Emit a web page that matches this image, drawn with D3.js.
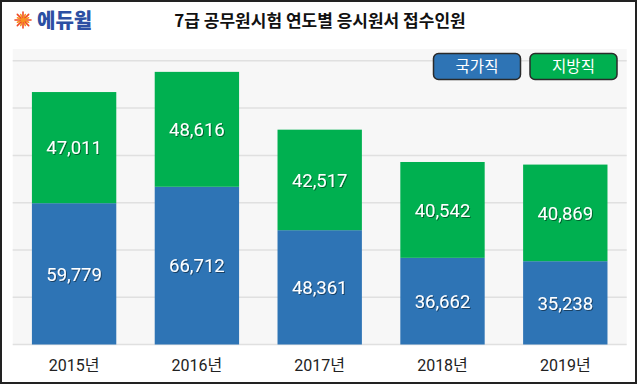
<!DOCTYPE html>
<html>
<head>
<meta charset="utf-8">
<script src="https://cdn.jsdelivr.net/npm/d3@7"></script>
<style>
  body { margin: 0; background: #fff; }
  svg { display: block; }
</style>
</head>
<body>
<div id="chart"></div>
<script>
// data
var years = ["2015년", "2016년", "2017년", "2018년", "2019년"];
var national = [59779, 66712, 48361, 36662, 35238];   // 국가직
var local = [47011, 48616, 42517, 40542, 40869];      // 지방직
var seriesNames = ["국가직", "지방직"];
var yTicks = [0, 20000, 40000, 60000, 80000, 100000, 120000];

var width = 640, height = 385;
var colors = ["#2e74b5", "#00b050"];
var font = "Roboto, 'Noto Sans CJK KR', sans-serif";

var svg = d3.select("#chart").append("svg")
    .attr("width", width).attr("height", height);

// shadow for the value labels
var defs = svg.append("defs");
var f = defs.append("filter").attr("id", "shadow").attr("x", "-20%").attr("y", "-20%").attr("width", "140%").attr("height", "140%");
f.append("feDropShadow").attr("dx", 1).attr("dy", 1).attr("stdDeviation", 0.6)
    .attr("flood-color", "#000").attr("flood-opacity", 0.45);

// outer frame
svg.append("rect").attr("x", 1).attr("y", 1).attr("width", 635).attr("height", 382)
    .attr("fill", "#fff").attr("stroke", "#222").attr("stroke-width", 2);

// logo
var logo = svg.append("g").attr("transform", "translate(23,20)");
d3.range(16).forEach(function (i) {
    var a = i * Math.PI / 8;
    var r = i % 2 == 0 ? 8 : 6;
    logo.append("line")
        .attr("x1", Math.cos(a) * 2).attr("y1", Math.sin(a) * 2)
        .attr("x2", Math.cos(a) * r).attr("y2", Math.sin(a) * r)
        .attr("stroke", i % 2 == 0 ? "#f04a23" : "#f7931e").attr("stroke-width", 1.6)
        .attr("stroke-linecap", "round");
});
logo.append("circle").attr("r", 2.2).attr("fill", "#f7931e");
svg.append("text").attr("x", 37).attr("y", 28)
    .text("에듀윌").attr("font-family", "'Noto Sans CJK KR', sans-serif")
    .attr("font-size", "20px").attr("font-weight", "900").style("fill", "#2c4fa3");

// title
svg.append("text").attr("x", 320).attr("y", 27).attr("text-anchor", "middle")
    .text("7급 공무원시험 연도별 응시원서 접수인원")
    .attr("font-family", "'Noto Sans CJK KR', sans-serif")
    .attr("font-size", "17px").attr("font-weight", "bold").style("fill", "#111");

// plot area
var plot = { left: 12.7, right: 626.7, top: 49, bottom: 344.5 };

svg.append("rect").attr("x", plot.left).attr("y", plot.top)
    .attr("width", plot.right - plot.left).attr("height", plot.bottom - plot.top)
    .attr("fill", "#f7f7f7");

var x = d3.scaleBand().domain(years).range([plot.left, plot.right])
    .paddingInner(0.313).paddingOuter(0.1565);
var y = d3.scaleLinear().domain([0, 125000]).range([plot.bottom, plot.top]);

// gridlines
svg.append("g").selectAll("line").data(yTicks).enter().append("line")
    .attr("x1", plot.left).attr("x2", plot.right)
    .attr("y1", function (d) { return y(d); }).attr("y2", function (d) { return y(d); })
    .attr("stroke", "#e0e0e0").attr("stroke-width", 1.5);

// stacked bars
var rows = years.map(function (yr, i) { return { year: yr, nat: national[i], loc: local[i] }; });
var stack = d3.stack().keys(["nat", "loc"])(rows);

var layers = svg.append("g").selectAll("g").data(stack).enter().append("g")
    .attr("fill", function (d, i) { return colors[i]; });

layers.selectAll("rect").data(function (d) { return d; }).enter().append("rect")
    .attr("x", function (d) { return x(d.data.year); })
    .attr("y", function (d) { return y(d[1]); })
    .attr("width", x.bandwidth())
    .attr("height", function (d) { return y(d[0]) - y(d[1]); });

layers.selectAll("text").data(function (d) { return d; }).enter().append("text")
    .attr("x", function (d) { return x(d.data.year) + x.bandwidth() / 2; })
    .attr("y", function (d) { return (y(d[0]) + y(d[1])) / 2; })
    .attr("dy", "0.36em").attr("text-anchor", "middle")
    .attr("font-family", font).attr("font-size", "18.5px")
    .attr("filter", "url(#shadow)")
    .style("fill", "#fff")
    .text(function (d) { return d3.format(",")(d[1] - d[0]); });

// x axis labels
svg.append("g").selectAll("text").data(years).enter().append("text")
    .attr("x", function (d) { return x(d) + x.bandwidth() / 2; })
    .attr("y", 371).attr("text-anchor", "middle")
    .attr("font-family", font).attr("font-size", "16px").style("fill", "#222")
    .text(function (d) { return d; });

// legend buttons
var legend = svg.append("g").selectAll("g").data(seriesNames).enter().append("g")
    .attr("transform", function (d, i) { return "translate(" + (433.5 + i * 96.5) + ",53.5)"; });
legend.append("rect").attr("width", 87).attr("height", 26).attr("rx", 5)
    .attr("fill", function (d, i) { return colors[i]; })
    .attr("stroke", "#2a2a2a").attr("stroke-width", 1.5);
legend.append("text").attr("x", 43.5).attr("y", 13).attr("dy", "0.36em")
    .attr("text-anchor", "middle").attr("font-family", "'Noto Sans CJK KR', sans-serif")
    .attr("font-size", "15.5px").style("fill", "#fff")
    .text(function (d) { return d; });
</script>
</body>
</html>
